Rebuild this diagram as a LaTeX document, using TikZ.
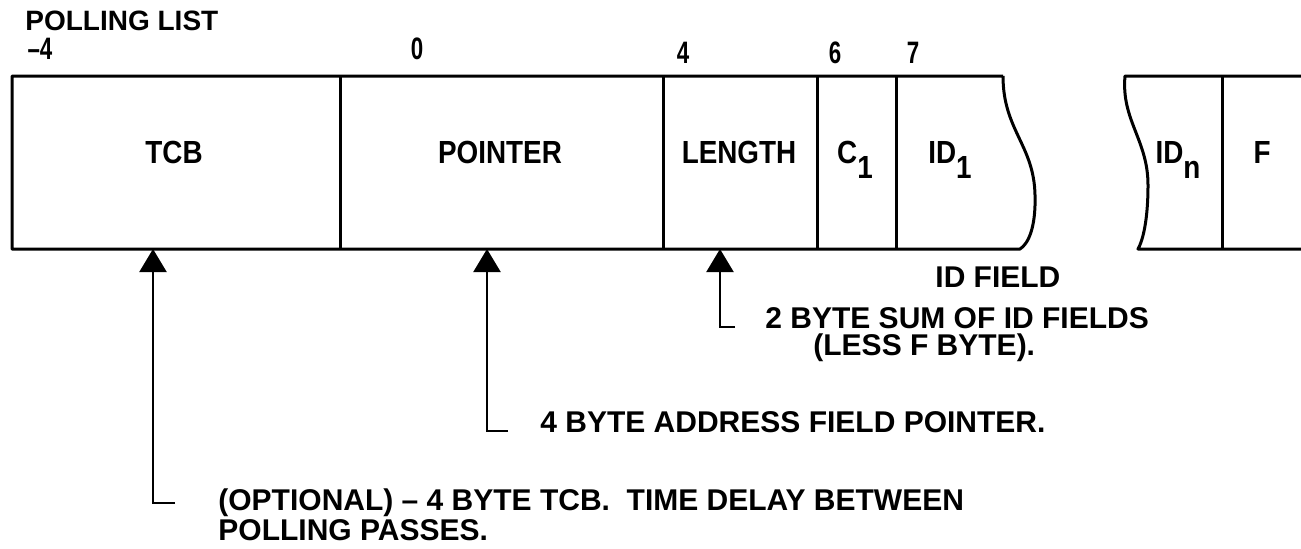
\documentclass[tikz,border=0pt]{standalone}
\usepackage{fontspec}
\setmainfont{Liberation Sans}
\usetikzlibrary{arrows.meta}

\tikzset{
  field/.style={line width=1.5pt, line join=round},
  lbl/.style={inner sep=0pt, anchor=base,
    font=\fontsize{16}{17}\selectfont\bfseries\addfontfeatures{FakeStretch=0.87}},
  offset/.style={inner sep=0pt, anchor=base,
    font=\fontsize{15.5}{16}\selectfont\bfseries\addfontfeatures{FakeStretch=0.72}},
  note/.style={inner sep=0pt, anchor=base west,
    font=\fontsize{15}{16}\selectfont\bfseries},
  ptr/.style={line width=1.1pt, -{Triangle[width=13.5pt,length=11.5pt]}},
}
\newcommand{\sub}[1]{\raisebox{-7.5pt}{#1}}

\begin{document}
\begin{tikzpicture}[x=0.5pt,y=-0.5pt]
  \useasboundingbox (0,0) rectangle (1301,548);
  % heading and offsets
  \node[note, font=\fontsize{14}{15}\selectfont\bfseries] (title) at (25,30) {POLLING LIST};
  \node[offset] (om4) at (40,59) {--4};
  \node[offset] (o0) at (417,59) {0};
  \node[offset] (o4) at (683,63) {4};
  \node[offset] (o6) at (835,63) {6};
  \node[offset] (o7) at (913,63) {7};
  % first part of the list
  \draw[field] (1003,76) -- (12,76) -- (12,249) -- (1020,249)
    .. controls (1028,244) and (1036,228) .. (1035,195)
    .. controls (1034,145) and (1003,130) .. (1003,76);
  \foreach \xd in {340,663,817,896}
    \draw[field] (\xd,76) -- (\xd,249);
  \node[lbl] (tcb) at (174,163) {TCB};
  \node[lbl] (pointer) at (500,163) {POINTER};
  \node[lbl] (length) at (739,163) {LENGTH};
  \node[lbl] (c1) at (855,163) {C\sub{1}};
  \node[lbl] (id1) at (950,163) {ID\sub{1}};
  % last part of the list
  \draw[field] (1301,76) -- (1125,76)
    .. controls (1121,120) and (1148,140) .. (1148,185)
    .. controls (1148,220) and (1143,240) .. (1138,249) -- (1301,249);
  \draw[field] (1222,76) -- (1222,249);
  \node[lbl] (idn) at (1178,163) {ID\sub{n}};
  \node[lbl] (f) at (1262,163) {F};
  % pointers into the fields
  \coordinate (tcbtip) at (153,249);
  \coordinate (tcbfoot) at (175,503);
  \coordinate (pointertip) at (487,249);
  \coordinate (pointerfoot) at (508,431);
  \coordinate (lengthtip) at (720,249);
  \coordinate (lengthfoot) at (735,327);
  \draw[ptr] (tcbfoot) -| (tcbtip);
  \draw[ptr] (pointerfoot) -| (pointertip);
  \draw[ptr] (lengthfoot) -| (lengthtip);
  % notes
  \node[note] (idfield) at (935,287) {ID FIELD};
  \node[note] (lengthnote) at (765,328) {2 BYTE SUM OF ID FIELDS};
  \node[note] (lengthnote2) at (813,355) {(LESS F BYTE).};
  \node[note] (pointernote) at (540,432) {4 BYTE ADDRESS FIELD POINTER.};
  \node[note] (tcbnote) at (218,510) {(OPTIONAL) -- 4 BYTE TCB.\ \ TIME DELAY BETWEEN};
  \node[note] (tcbnote2) at (218,540) {POLLING PASSES.};
\end{tikzpicture}
\end{document}
